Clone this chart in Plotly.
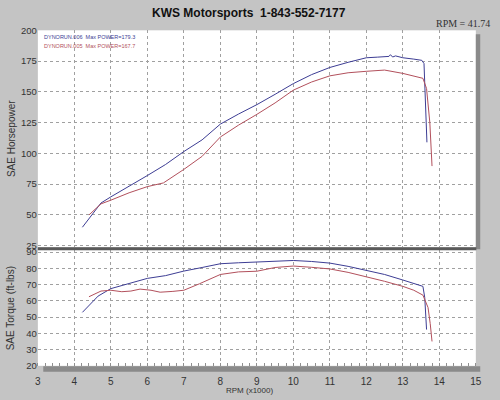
import plotly.graph_objects as go

# ---------------- data ----------------
rpm_hp_006 = [4.22, 4.45, 4.73, 5.0, 5.5, 6.0, 6.5, 7.0, 7.5, 8.0, 8.5, 9.0, 9.5, 10.0, 10.5,
              11.0, 11.5, 12.0, 12.3, 12.5, 12.62, 12.66, 12.72, 12.8, 12.88, 13.0, 13.3, 13.52,
              13.58, 13.61, 13.64, 13.66]
hp_006 = [40, 49, 59.7, 64.7, 73, 82, 91, 101.5, 111, 123.8, 132, 139.6, 148, 156.7, 164,
          169.8, 174, 177.7, 178.2, 178.5, 178.8, 180.2, 178.3, 179.2, 178.6, 177.7, 176.6, 175.6,
          173, 150, 125, 109]

rpm_hp_005 = [4.4, 4.6, 4.73, 5.0, 5.5, 6.0, 6.44, 7.0, 7.5, 8.0, 8.5, 9.0, 9.5, 10.0, 10.5,
              11.0, 11.5, 12.0, 12.5, 13.0, 13.3, 13.55, 13.65, 13.74, 13.8]
hp_005 = [50, 55, 59, 62, 68, 73, 76, 87, 97.6, 113.3, 123, 131.7, 141, 151.4, 158,
          163, 165.5, 166.7, 167.7, 165, 163, 161, 152.7, 125, 89.7]

rpm_tq_006 = [4.22, 4.4, 4.65, 5.0, 5.5, 6.0, 6.5, 7.0, 7.5, 8.0, 8.5, 9.0, 9.5, 10.0, 10.5,
              11.0, 11.5, 12.0, 12.5, 13.0, 13.3, 13.55, 13.6, 13.63, 13.65]
tq_006 = [52.9, 57, 62.9, 67.5, 70.5, 73.8, 75.5, 78.3, 80.5, 82.8, 83.4, 83.8, 84.5, 84.8, 84.2,
          83.2, 81.2, 78.8, 76.2, 72.8, 70.8, 68.9, 62, 52, 42.3]

rpm_tq_005 = [4.4, 4.73, 5.0, 5.3, 5.55, 5.8, 6.1, 6.35, 6.7, 7.0, 7.43, 8.0, 8.5, 9.0, 9.5,
              10.0, 10.5, 11.0, 11.5, 12.0, 12.5, 13.0, 13.3, 13.55, 13.69, 13.75, 13.8]
tq_005 = [62.5, 66, 66.5, 65.6, 66, 67.2, 66.5, 65.3, 65.8, 66.5, 70.5, 76.2, 77.8, 78.2, 80.5,
          81.4, 80.6, 79.6, 77.5, 74.9, 72.0, 68.9, 66.5, 63.5, 55.9, 46, 35]

x_ticks = list(range(3, 16))
hp_ticks = [25, 50, 75, 100, 125, 150, 175, 200]
tq_ticks = [20, 30, 40, 50, 60, 70, 80, 90]

title_text = "KWS Motorsports  1-843-552-7177"
rpm_note = "RPM = 41.74"
legend_006 = "DYNORUN.006  Max POWER=179.3"
legend_005 = "DYNORUN.005  Max POWER=167.7"

# ---------------- styling ----------------
W, H = 500, 400
BLUE = "#3d3d94"
RED = "#b2505c"
BG = "#c4c4c4"
GRID = "#a0a0a0"
FONT = "Liberation Sans, Arial, sans-serif"

def px(x):
    return x / W

def py(y):
    return (H - y) / H

fig = go.Figure()
fig.add_trace(go.Scatter(x=rpm_hp_006, y=hp_006, mode="lines", line=dict(color=BLUE, width=1),
                         xaxis="x", yaxis="y", showlegend=False))
fig.add_trace(go.Scatter(x=rpm_hp_005, y=hp_005, mode="lines", line=dict(color=RED, width=1),
                         xaxis="x", yaxis="y", showlegend=False))
fig.add_trace(go.Scatter(x=rpm_tq_006, y=tq_006, mode="lines", line=dict(color=BLUE, width=1),
                         xaxis="x2", yaxis="y2", showlegend=False))
fig.add_trace(go.Scatter(x=rpm_tq_005, y=tq_005, mode="lines", line=dict(color=RED, width=1),
                         xaxis="x2", yaxis="y2", showlegend=False))

xdom = [px(35.5), px(481.5)]
common_x = dict(range=[3, 15], domain=xdom, tickvals=x_ticks, showgrid=True, gridcolor=GRID,
                griddash="dot", gridwidth=1, zeroline=False, showline=False)
common_y = dict(showgrid=True, gridcolor=GRID, griddash="dot", gridwidth=1, zeroline=False,
                showline=False, tickfont=dict(family=FONT, size=9.5, color="#333"), ticks="")

shapes = [
    # right shadow (top panel)
    dict(type="rect", xref="paper", yref="paper", x0=px(481.5), x1=px(486), y0=py(250), y1=py(29),
         fillcolor="#8a8a8a", line=dict(width=0), layer="below"),
    # bottom shadow
    dict(type="rect", xref="paper", yref="paper", x0=px(41), x1=px(486), y0=py(376), y1=py(370.5),
         fillcolor="#8a8a8a", line=dict(width=0), layer="below"),
    # separator between panels
    dict(type="line", xref="paper", yref="paper", x0=px(35.5), x1=px(482), y0=py(249.5), y1=py(249.5),
         line=dict(color="#5a5a5a", width=3)),
]

annotations = [
    dict(text="<b>" + title_text + "</b>", x=px(251), y=py(7.5), xref="paper", yref="paper",
         showarrow=False, font=dict(family=FONT, size=12, color="#111"), xanchor="center", yanchor="middle"),
    dict(text=rpm_note, x=px(498), y=py(17.5), xref="paper", yref="paper", showarrow=False,
         font=dict(family="Liberation Serif, Times New Roman, serif", size=10, color="#333"),
         xanchor="right", yanchor="middle"),
    dict(text=legend_006, x=px(40), y=py(32), xref="paper", yref="paper", showarrow=False,
         font=dict(family=FONT, size=5.5, color=BLUE), xanchor="left", yanchor="middle"),
    dict(text=legend_005, x=px(40), y=py(41.5), xref="paper", yref="paper", showarrow=False,
         font=dict(family=FONT, size=5.5, color=RED), xanchor="left", yanchor="middle"),
    dict(text="SAE Horsepower", x=px(8), y=py(136), xref="paper", yref="paper", showarrow=False,
         textangle=-90, font=dict(family=FONT, size=10, color="#333"), xanchor="center", yanchor="middle"),
    dict(text="SAE Torque (ft-lbs)", x=px(8), y=py(311), xref="paper", yref="paper", showarrow=False,
         textangle=-90, font=dict(family=FONT, size=10, color="#333"), xanchor="center", yanchor="middle"),
    dict(text="RPM (x1000)", x=px(251), y=py(395), xref="paper", yref="paper", showarrow=False,
         font=dict(family=FONT, size=8, color="#333"), xanchor="center", yanchor="middle"),
]

fig.update_layout(
    width=W, height=H, margin=dict(l=0, r=0, t=0, b=0),
    paper_bgcolor=BG, plot_bgcolor="white",
    xaxis=dict(**common_x, anchor="y", showticklabels=False, ticks=""),
    yaxis=dict(**common_y, domain=[py(248), py(25)], range=[23.8, 200], tickvals=hp_ticks, anchor="x"),
    xaxis2=dict(**common_x, anchor="y2", showticklabels=True, ticks="outside", ticklen=6,
                tickcolor="rgba(0,0,0,0)", tickfont=dict(family=FONT, size=10, color="#333"),
                minor=dict(dtick=0.2, ticks="inside", ticklen=3, tickcolor="#909090", showgrid=False)),
    yaxis2=dict(**common_y, domain=[py(370), py(251)], range=[20, 91.2], tickvals=tq_ticks, anchor="x2"),
    shapes=shapes, annotations=annotations,
)

fig.write_html("out.html")
